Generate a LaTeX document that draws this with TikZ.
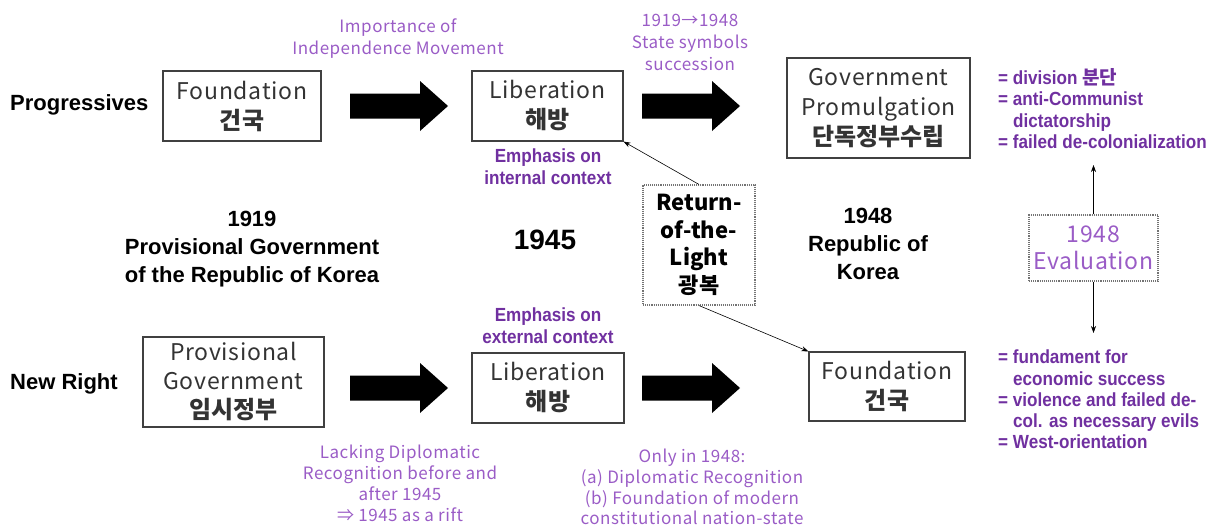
\documentclass[tikz,border=0pt]{standalone}
\usepackage{fontspec}
\usetikzlibrary{arrows.meta}
\setmainfont{Liberation Sans}
\newfontfamily\krfont{Noto Sans CJK KR}
\newfontfamily\thinfont{Noto Sans CJK KR}[LetterSpace=3]
\newfontfamily\narrowfont{Liberation Sans}[FakeStretch=0.9]
\definecolor{lightpurple}{HTML}{9A5CC6}
\definecolor{darkpurple}{HTML}{7030A0}
\definecolor{boxline}{HTML}{404040}
\newcommand\kr[1]{{\krfont\bfseries\fontsize{24}{30}\selectfont #1}}
\tikzset{
  box/.style={draw=boxline, line width=1.1pt, inner sep=0pt, align=center, text=black!80},
  dotbox/.style={draw=black!55, densely dotted, line width=1.1pt, inner sep=0pt, align=center},
  thintxt/.style={font=\thinfont\fontsize{17}{22}\selectfont, text=lightpurple, align=center, inner sep=0pt},
  emphtxt/.style={font=\narrowfont\bfseries\fontsize{19}{22}\selectfont, text=darkpurple, align=center, inner sep=0pt},
  listtxt/.style={font=\narrowfont\bfseries\fontsize{19}{21.5}\selectfont, text=darkpurple, align=left, inner sep=0pt, anchor=west},
  lbl/.style={font=\bfseries\fontsize{22}{28}\selectfont, align=center, inner sep=0pt},
  conn/.style={-{Stealth[length=7pt,width=5pt]}, line width=0.6pt},
  blockarrow/.pic={\fill (0,-12.5) -- (70,-12.5) -- (70,-25) -- (98,0) -- (70,25) -- (70,12.5) -- (0,12.5) -- cycle;}
}
\begin{document}
\begin{tikzpicture}[x=1pt,y=-1pt]
\useasboundingbox (0,0) rectangle (1215,527);

% row labels
\node[lbl, anchor=west] (prog) at (10,105) {Progressives};
\node[lbl, anchor=west] (newr) at (10,384) {New Right};

% top row boxes
\node[box, minimum width=158pt, minimum height=70pt, font=\thinfont\fontsize{23}{30}\selectfont] (fnd1) at (242,106) {Foundation\\\kr{건국}};
\node[box, minimum width=151pt, minimum height=70pt, font=\thinfont\fontsize{23}{30}\selectfont] (lib1) at (547.5,106) {Liberation\\\kr{해방}};
\node[box, minimum width=183pt, minimum height=100pt, font=\thinfont\fontsize{23}{30}\selectfont] (gov) at (878.5,108) {Government\\Promulgation\\\kr{단독정부수립}};

% bottom row boxes
\node[box, minimum width=181pt, minimum height=90pt, font=\thinfont\fontsize{23}{29}\selectfont] (prov) at (233.5,382) {Provisional\\Government\\\kr{임시정부}};
\node[box, minimum width=152pt, minimum height=70pt, font=\thinfont\fontsize{23}{30}\selectfont] (lib2) at (548,388) {Liberation\\\kr{해방}};
\node[box, minimum width=156pt, minimum height=69pt, font=\thinfont\fontsize{23}{30}\selectfont] (fnd2) at (887,386.5) {Foundation\\\kr{건국}};

% block arrows
\pic at (350,106) {blockarrow};
\pic at (642,106) {blockarrow};
\pic at (350,388) {blockarrow};
\pic at (642,388) {blockarrow};

% middle
\node[dotbox, minimum width=112pt, minimum height=120pt, font=\krfont\bfseries\fontsize{22}{27.5}\selectfont] (ret) at (699,245) {Return-\\of-the-\\Light\\광복};
\node[dotbox, minimum width=129pt, minimum height=66pt, text=lightpurple, font=\thinfont\fontsize{23}{27}\selectfont] (eval) at (1093.5,248) {1948\\Evaluation};

\node[lbl] (y1919) at (252,249) {1919\\Provisional Government\\of the Republic of Korea};
\node[lbl, font=\bfseries\fontsize{28}{30}\selectfont] (y1945) at (545,240) {1945};
\node[lbl] (y1948) at (868,244) {1948\\Republic of\\Korea};

% purple notes
\node[thintxt] (imp) at (398,39) {Importance of\\Independence Movement};
\node[thintxt] (sym) at (690,42) {1919→1948\\State symbols\\succession};
\node[thintxt, font=\thinfont\fontsize{17}{21}\selectfont] (lack) at (400,483.5) {Lacking Diplomatic\\Recognition before and\\after 1945\\⇒ 1945 as a rift};
\node[thintxt, font=\thinfont\fontsize{17}{20.7}\selectfont] (only) at (692,487) {Only in 1948:\\(a) Diplomatic Recognition\\(b) Foundation of modern\\constitutional nation-state};

\node[emphtxt] (eint) at (548,167) {Emphasis on\\internal context};
\node[emphtxt] (eext) at (548,326) {Emphasis on\\external context};

\node[listtxt] (ltop) at (998,108.5) {= division {\krfont\bfseries 분단}\\= anti-Communist\\\hspace*{15pt}dictatorship\\= failed de-colonialization};
\node[listtxt, font=\narrowfont\bfseries\fontsize{19}{21.25}\selectfont] (lbot) at (998,399.5) {= fundament for\\\hspace*{15pt}economic success\\= violence and failed de-\\\hspace*{15pt}col. as necessary evils\\= West-orientation};

% connectors
\coordinate (evup) at (1093.5,165);
\coordinate (evdown) at (1093.5,333);
\draw[conn] (ret.north) -- (lib1.south east);
\draw[conn] (ret.south) -- (fnd2.north west);
\draw[conn] (eval.north) -- (evup);
\draw[conn] (eval.south) -- (evdown);
\end{tikzpicture}
\end{document}
